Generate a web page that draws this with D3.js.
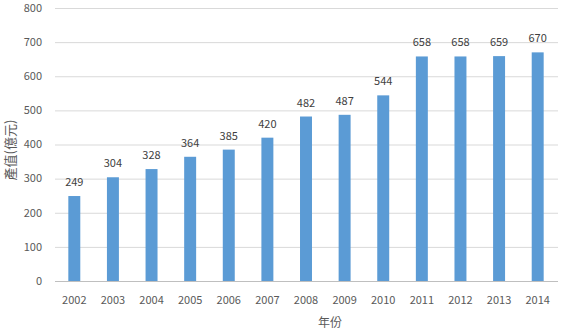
<!DOCTYPE html>
<html>
<head>
<meta charset="utf-8">
<script src="https://cdn.jsdelivr.net/npm/d3@7"></script>
<style>
  body { margin: 0; background: #fff; }
  text { font-family: "Noto Sans CJK TC", "Noto Sans", sans-serif; }
</style>
</head>
<body>
<div id="chart"></div>
<script>
// chart data
var years = ["2002", "2003", "2004", "2005", "2006", "2007", "2008", "2009", "2010", "2011", "2012", "2013", "2014"];
var output = [249, 304, 328, 364, 385, 420, 482, 487, 544, 658, 658, 659, 670];
var yTicks = [0, 100, 200, 300, 400, 500, 600, 700, 800];

var width = 567, height = 334;
var plotLeft = 55, plotRight = 557, plotTop = 8, plotBottom = 281;

var svg = d3.select("#chart").append("svg").attr("width", width).attr("height", height);

var x = d3.scaleBand().domain(years).range([plotLeft, plotRight]).paddingInner(0.69).paddingOuter(0.345);
var y = d3.scaleLinear().domain([0, 800]).range([plotBottom, plotTop]);

// gridlines
svg.append("g").selectAll("line").data(yTicks).enter().append("line")
  .attr("x1", plotLeft).attr("x2", plotRight + 1)
  .attr("y1", function(d) { return y(d) + 0.5; }).attr("y2", function(d) { return y(d) + 0.5; })
  .attr("stroke", function(d) { return d == 0 ? "#bfbfbf" : "#d9d9d9"; }).attr("stroke-width", 1);

// y tick labels
svg.append("g").selectAll("text").data(yTicks).enter().append("text")
  .attr("x", 42).attr("y", function(d) { return y(d); }).attr("dy", "0.35em")
  .attr("text-anchor", "end").attr("font-size", 11).attr("fill", "#595959")
  .text(function(d) { return d; });

// bars
svg.append("g").selectAll("rect").data(output).enter().append("rect")
  .attr("x", function(d, i) { return x(years[i]); })
  .attr("width", x.bandwidth())
  .attr("y", function(d) { return y(d); })
  .attr("height", function(d) { return y(0) - y(d); })
  .attr("fill", "#5b9bd5");

// value labels
svg.append("g").selectAll("text").data(output).enter().append("text")
  .attr("x", function(d, i) { return x(years[i]) + x.bandwidth() / 2; })
  .attr("y", function(d) { return y(d) - 10; })
  .attr("text-anchor", "middle").attr("font-size", 11).attr("fill", "#404040")
  .text(function(d) { return d; });

// x tick labels
svg.append("g").selectAll("text").data(years).enter().append("text")
  .attr("x", function(d) { return x(d) + x.bandwidth() / 2; })
  .attr("y", 304)
  .attr("text-anchor", "middle").attr("font-size", 11).attr("fill", "#595959")
  .text(function(d) { return d; });

// axis titles
svg.append("text").attr("x", 330).attr("y", 327).attr("text-anchor", "middle")
  .attr("font-size", 12).attr("fill", "#595959").text("年份");
svg.append("text").attr("transform", "translate(15,150) rotate(-90)").attr("text-anchor", "middle")
  .attr("font-size", 13).attr("fill", "#595959").text("產值(億元)");
</script>
</body>
</html>
